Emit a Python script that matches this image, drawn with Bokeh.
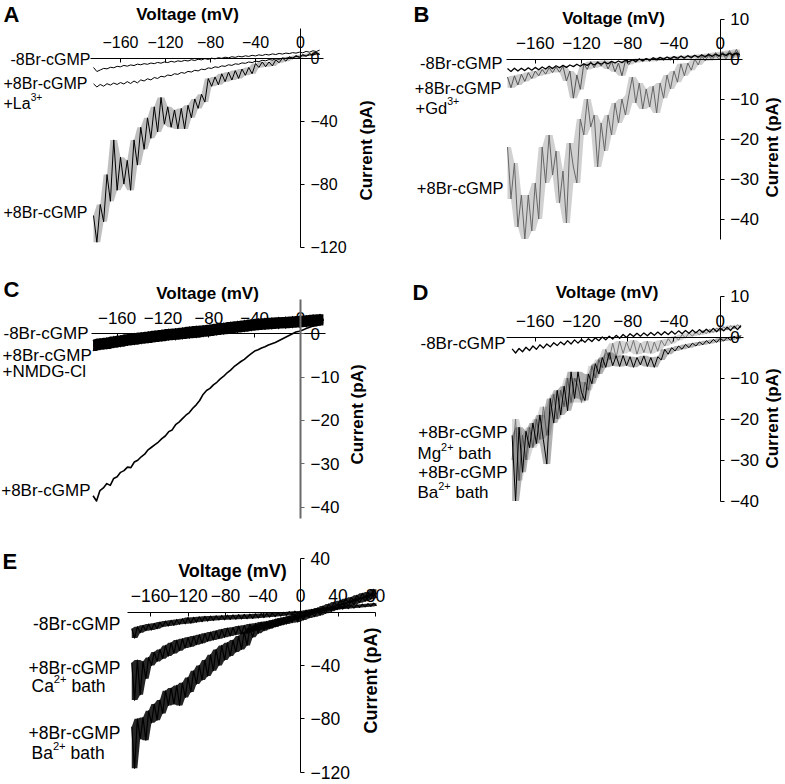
import math
from bokeh.plotting import figure
from bokeh.models import Range1d, LinearAxis, FixedTicker, Label
from bokeh.layouts import column, row
from bokeh.embed import file_html
from bokeh.resources import INLINE

FONT = "Liberation Sans"

# ---------------- data (voltage in mV, current in pA) ----------------
VOLT_AB = [-184, -181, -178, -175, -172, -169, -166, -163, -160, -157,
           -154, -151, -148, -145, -142, -139, -136, -133, -130, -127,
           -124, -121, -118, -115, -112, -109, -106, -103, -100, -97,
           -94, -91, -88, -85, -82, -79, -76, -73, -70, -67,
           -64, -61, -58, -55, -52, -49, -46, -43, -40, -37,
           -34, -31, -28, -25, -22, -19, -16, -13, -10, -7,
           -4, -1, 2, 5, 8, 11, 14, 17]

A_minus_cgmp = [-6.0, -8.6, -7.6, -6.6, -6.9, -5.9, -6.2, -5.3, -5.6, -4.7,
                -5.2, -4.4, -4.8, -3.9, -4.3, -3.6, -4.0, -3.2, -3.6, -2.8,
                -3.3, -2.5, -2.9, -2.1, -2.6, -1.8, -2.2, -1.5, -1.9, -1.1,
                -1.6, -0.8, -1.2, -0.4, -0.9, -0.1, -0.6, 0.2, -0.2, 0.5,
                0.1, 0.8, 0.4, 1.1, 0.7, 1.4, 1.0, 1.7, 1.3, 2.0,
                1.6, 2.3, 1.9, 2.6, 2.2, 2.9, 2.5, 3.1, 2.8, 3.4,
                3.1, 3.7, 3.3, 4.2, 3.7, 4.6, 4.1, 5.0]
A_cgmp_la = [-16.4, -18.4, -16.8, -17.9, -16.3, -17.2, -15.9, -16.8, -15.6, -16.5,
             -15.0, -16.2, -14.6, -15.8, -13.9, -14.6, -13.2, -13.9, -12.4, -13.0,
             -11.6, -12.0, -10.8, -11.2, -10.0, -10.4, -9.2, -9.7, -8.5, -8.9,
             -7.8, -8.2, -7.1, -7.4, -6.3, -6.6, -5.6, -6.0, -5.0, -5.3,
             -4.3, -4.7, -3.7, -4.0, -3.1, -3.4, -2.5, -2.9, -2.0, -2.3,
             -1.5, -1.8, -1.0, -1.3, -0.5, -0.8, 0.0, -0.3, 0.5, 0.2,
             1.0, 0.7, 1.5, 1.2, 2.0, 1.8, 2.6, 2.4]
A_plus_cgmp = [-100, -117, -93, -104, -74, -91, -52, -84, -63, -80,
               -65, -84, -52, -68, -44, -58, -38, -51, -31, -47,
               -25, -42, -31, -44, -33, -45, -32, -45, -30, -38,
               -26, -32, -23, -28, -13, -18, -12, -17, -10, -15,
               -9, -14, -8, -13, -7, -11, -6, -10, -3.5, -6,
               -2.5, -5.5, -2.5, -5, -1.2, -3, 0, -2, 0.8, -0.5,
               1.6, 0.3, 2.2, 1.2, 2.8, 1.8, 3.7, 2.2]

B_minus_cgmp = [-2.4, -3.1, -2.3, -3.0, -2.3, -2.9, -2.2, -2.8, -2.1, -2.7,
                -2.0, -2.5, -1.8, -2.4, -1.7, -2.2, -1.6, -2.1, -1.5, -1.9,
                -1.3, -1.8, -1.2, -1.6, -1.0, -1.5, -0.9, -1.3, -0.8, -1.2,
                -0.6, -1.0, -0.5, -0.9, -0.3, -0.7, -0.2, -0.6, 0.0, -0.4,
                0.1, -0.3, 0.3, -0.1, 0.4, 0.0, 0.5, 0.1, 0.6, 0.2,
                0.7, 0.3, 0.8, 0.4, 0.9, 0.5, 1.0, 0.6, 1.1, 0.7,
                1.2, 0.8, 1.3, 0.9, 1.4, 1.0, 1.5, 1.1]
B_cgmp_gd = [-4.5, -7.2, -4.2, -6.5, -3.8, -5.6, -3.4, -4.9, -3.0, -4.2,
             -2.6, -3.8, -2.2, -3.4, -2.0, -3.3, -1.8, -5.5, -3.0, -9.8,
             -4.0, -7.6, -1.2, -2.6, -0.6, -2.2, -0.5, -1.8, -0.4, -2.5,
             -0.6, -3.2, -1.0, -4.2, -0.4, -1.4, 0.0, -0.9, 0.1, -0.7,
             0.2, -0.6, 0.3, -0.5, 0.4, -0.4, 0.5, -0.3, 0.6, -0.2,
             0.8, 0.0, 0.9, 0.1, 1.0, 0.2, 1.2, 0.3, 1.4, 0.4,
             1.6, 0.5, 1.8, 0.6, 2.1, 0.6, 2.4, 0.8]
B_plus_cgmp = [-22, -35, -26, -42, -34, -45, -34, -43, -31, -40,
               -22, -31, -19, -29, -23, -36, -28, -41, -21, -27,
               -31, -15, -19, -10, -17, -14, -27, -16, -23, -14,
               -19, -11, -16, -10, -14, -9, -4.5, -11, -6, -12.5,
               -7.5, -12, -6.8, -13.5, -6, -9.8, -4, -7.5, -3, -5.8,
               -1.2, -4.2, -1, -2.8, 0, -1.5, 0.8, -0.5, 1.0, -0.3,
               1.2, -0.2, 1.4, 0.0, 1.6, 0.2, 1.8, 0.5]

VOLT_C = [-181, -178, -175, -172, -169, -166, -163, -160, -157, -154,
          -151, -148, -145, -142, -139, -136, -133, -130, -127, -124,
          -121, -118, -115, -112, -109, -106, -103, -100, -97, -94,
          -91, -88, -85, -82, -79, -76, -73, -70, -67, -64,
          -61, -58, -55, -52, -49, -46, -43, -40, -37, -34,
          -31, -28, -25, -22, -19, -16, -13, -10, -7, -4,
          -1, 2, 5, 8, 11, 14, 17, 20]
C_minus_cgmp = [-1.4, -2.9, -1.1, -2.6, -0.9, -2.4, -0.6, -2.1, -0.4, -1.9,
                -0.1, -1.6, 0.1, -1.4, 0.3, -1.2, 0.5, -1.0, 0.7, -0.8,
                0.9, -0.6, 1.1, -0.4, 1.2, -0.3, 1.4, -0.1, 1.6, 0.1,
                1.8, 0.2, 1.9, 0.4, 2.1, 0.6, 2.3, 0.8, 2.5, 1.0,
                2.7, 1.2, 2.9, 1.4, 3.1, 1.6, 3.3, 1.8, 3.5, 2.0,
                3.6, 2.1, 3.7, 2.2, 3.8, 2.3, 3.9, 2.4, 4.0, 2.5,
                4.1, 2.6, 4.2, 2.7, 4.4, 2.8, 4.5, 2.9]
C_cgmp_nmdg = [-4.0, -2.2, -3.7, -2.0, -3.5, -1.8, -3.2, -1.5, -3.0, -1.3,
               -2.7, -1.0, -2.5, -0.8, -2.3, -0.6, -2.1, -0.4, -1.9, -0.2,
               -1.7, 0.0, -1.5, 0.2, -1.4, 0.3, -1.2, 0.5, -1.0, 0.7,
               -0.9, 0.8, -0.7, 1.0, -0.5, 1.2, -0.3, 1.4, -0.1, 1.6,
               0.1, 1.8, 0.3, 2.0, 0.5, 2.2, 0.7, 2.4, 0.9, 2.5,
               1.0, 2.6, 1.1, 2.7, 1.2, 2.8, 1.3, 2.9, 1.4, 3.0,
               1.5, 3.1, 1.6, 3.2, 1.7, 3.4, 1.9, 3.5]
C_plus_cgmp = [-37.4, -38.6, -36.2, -35.6, -34.6, -35.0, -33.4, -33.0, -32.0, -31.6,
               -30.8, -30.9, -29.6, -29.2, -28.4, -27.8, -26.8, -26.2, -25.6, -25.0,
               -24.2, -23.6, -22.6, -22.2, -21.0, -20.4, -19.6, -18.8, -18.2, -17.2,
               -16.4, -15.4, -14.0, -13.1, -12.6, -11.8, -11.2, -10.4, -9.8, -9.0,
               -8.4, -7.6, -7.0, -6.4, -5.9, -5.2, -4.6, -4.0, -3.7, -3.3,
               -3.0, -2.6, -2.3, -2.0, -1.6, -1.2, -0.8, -0.4, 0.0, 0.4,
               0.6, 0.9, 1.2, 1.5, 1.8, 2.0, 2.3, 2.6]

VOLT_D = [-180, -177, -174, -171, -168, -165, -162, -159, -156, -153,
          -150, -147, -144, -141, -138, -135, -132, -129, -126, -123,
          -120, -117, -114, -111, -108, -105, -102, -99, -96, -93,
          -90, -87, -84, -81, -78, -75, -72, -69, -66, -63,
          -60, -57, -54, -51, -48, -45, -42, -39, -36, -33,
          -30, -27, -24, -21, -18, -15, -12, -9, -6, -3,
          0, 3, 6, 9, 12, 15, 18]
D_minus_cgmp = [-2.9, -3.9, -2.8, -3.6, -2.5, -3.3, -2.2, -3.0, -1.9, -2.7,
                -1.7, -2.4, -1.4, -2.1, -1.2, -1.9, -0.9, -1.7, -0.7, -1.5,
                -0.6, -1.3, -0.4, -1.1, -0.2, -0.9, 0.0, -0.7, 0.2, -0.5,
                0.4, -0.3, 0.6, -0.1, 0.8, 0.1, 0.9, 0.2, 1.0, 0.3,
                1.1, 0.4, 1.2, 0.5, 1.3, 0.6, 1.4, 0.7, 1.5, 0.8,
                1.6, 0.9, 1.7, 1.0, 1.8, 1.1, 1.9, 1.2, 2.1, 1.3,
                2.2, 1.5, 2.4, 1.6, 2.6, 1.8, 2.8]
D_cgmp_mg = [-24, -40, -22, -33, -23, -27, -21, -26, -19, -25,
             -31, -15, -21, -13, -19, -12, -18, -8.5, -15, -8.5,
             -13.5, -15.5, -9, -11.4, -6.5, -9, -5, -7.4, -3.8, -7,
             -4.6, -7.2, -4.5, -7, -4.8, -7.4, -5, -6.8, -4.6, -7.2,
             -5, -7.4, -4.8, -5.6, -3, -4.2, -2.6, -3.4, -2.2, -3.0,
             -1.8, -2.6, -1.5, -2.2, -1.2, -1.9, -0.9, -1.6, -0.6, -1.3,
             -0.3, -1.0, -0.1, -0.8, 0.2, -0.5, 0.4]
D_cgmp_ba = [-30, -20, -35, -24, -30, -22, -27, -20, -25, -17,
             -24, -19, -14, -20, -13, -17, -10, -16, -10, -12,
             -16, -11, -13, -7, -10, -5.5, -7.5, -3, -5.5, -1.5,
             -5, -1, -4, -1.2, -3.5, -0.8, -4.2, -1.5, -3.8, -1,
             -4, -1.2, -3.5, -0.8, -2.2, -0.4, -1.6, 0.2, -0.8, 0.6,
             -0.2, 1.0, 0.2, 1.3, 0.5, 1.6, 0.8, 1.9, 1.1, 2.2,
             1.4, 2.5, 1.7, 2.8, 2.0, 3.0, 2.2]

VOLT_E = [-180, -177, -174, -171, -168, -165, -162, -159, -156, -153,
          -150, -147, -144, -141, -138, -135, -132, -129, -126, -123,
          -120, -117, -114, -111, -108, -105, -102, -99, -96, -93,
          -90, -87, -84, -81, -78, -75, -72, -69, -66, -63,
          -60, -57, -54, -51, -48, -45, -42, -39, -36, -33,
          -30, -27, -24, -21, -18, -15, -12, -9, -6, -3,
          0, 3, 6, 9, 12, 15, 18, 21, 24, 27,
          30, 33, 36, 39, 42, 45, 48, 51, 54, 57,
          60, 63, 66, 69, 72, 75, 78, 81]
E_minus_cgmp = [-12.5, -19.5, -11.0, -15.5, -10.0, -14.0, -9.0, -13.5, -8.5, -12.5,
                -7.5, -11.0, -6.8, -10.5, -6.2, -10.0, -5.6, -9.2, -5.0, -8.8,
                -4.2, -8.4, -4.0, -7.6, -3.6, -7.2, -3.2, -6.8, -3.0, -6.4,
                -2.8, -6.0, -2.6, -5.8, -2.4, -5.6, -2.2, -5.4, -2.0, -5.2,
                -1.8, -5.0, -1.6, -4.8, -1.4, -4.5, -1.2, -4.2, -1.0, -3.8,
                -0.8, -3.4, -0.5, -3.0, -0.2, -2.6, 0.2, -2.2, 0.6, -1.8,
                0.8, -1.2, 1.4, -0.6, 2.0, 0.0, 2.6, 0.6, 3.0, 1.0,
                3.4, 1.4, 3.8, 1.8, 4.2, 2.2, 4.6, 2.6, 5.0, 3.0,
                5.4, 3.4, 5.8, 3.8, 6.2, 4.2, 6.6, 4.6]
E_cgmp_ca = [-38, -66, -36, -62, -37, -50, -34, -40, -30, -37,
             -28, -35, -25, -33, -23, -31, -21, -29, -20, -27,
             -19, -26, -18, -24.5, -17, -23.5, -16, -22, -15, -21,
             -14, -20, -13, -19, -12, -18, -11.5, -17, -10.5, -16.5,
             -10, -16, -9, -14.5, -8.5, -13.5, -7.5, -13, -7, -12,
             -6, -11, -5, -10, -4.5, -9, -3.5, -8, -2.5, -7.5,
             -2, -6, -1, -4.5, 0, -3.5, 1, -2.5, 2, -1,
             3.5, 0.5, 4.5, 2, 6, 3, 7, 4.5, 8.5, 5.5,
             10, 7, 11, 8, 12.5, 9.5, 14, 10.5]
E_cgmp_ba = [-86, -117, -80, -95, -79, -96, -74, -83, -69, -81,
             -66, -76, -59, -70, -57, -69, -55, -70, -53, -64,
             -49, -60, -44, -54, -40, -51, -36, -48, -32, -44,
             -28, -40, -25, -36, -23, -33, -21, -30, -18, -28,
             -15, -25, -12, -19, -10, -16, -8.5, -14, -7.5, -12.5,
             -6.5, -11, -5, -9.5, -4, -8, -3, -6.5, -1.5, -5.5,
             -1, -4, 0.5, -2.5, 1.5, -1, 3, 0.5, 4.5, 1.5,
             6, 3, 7.5, 4.5, 8.5, 5.5, 10, 7, 11, 8,
             12.5, 9.5, 14, 10.5, 15, 12, 17, 13.5]

X_TICKS = [-160, -120, -80, -40, 0]
X_TICKS_E = [-160, -120, -80, -40, 0, 40, 80]
Y_TICKS_A = [0, -40, -80, -120]
Y_TICKS_B = [10, 0, -10, -20, -30, -40]
Y_TICKS_C = [0, -10, -20, -30, -40]
Y_TICKS_D = [10, 0, -10, -20, -30, -40]
Y_TICKS_E = [40, -40, -80, -120]

# ---------------- layout constants ----------------
# page pixel of 0 mV, px per mV, page pixel of 0 pA, px per pA
CAL = {"A": (300.0, 1.125, 57.5, 1.575),
       "B": (719.7, 1.156, 58.5, 4.0),
       "C": (300.0, 1.146, 333.3, 4.33),
       "D": (719.7, 1.156, 336.5, 4.1),
       "E": (300.0, 0.9375, 611.5, 1.335)}
# canvas box of each panel (left, right, top, bottom) in page pixels
BOX = {"A": (0, 392, 0, 268),
       "B": (392, 784, 0, 268),
       "C": (0, 392, 268, 542),
       "D": (392, 784, 268, 542),
       "E": (0, 392, 542, 783)}
# font sizes per panel: (tick labels, annotation text, axis titles)
FS = {"A": (16, 16, 17), "B": (17, 16.5, 17), "C": (17, 17, 17),
      "D": (17, 17, 17), "E": (17.5, 17.5, 18)}
# em widths (Arial metrics) of the texts that carry a superscript
EM = {"+La": 1.696, "+Gd": 1.918, "Mg": 1.389, "Ba": 1.223, "Ca": 1.278}


def make_panel(key, xticks, yticks, xbounds, ybounds, ycolor="black", ywidth=1):
    x0, sx, y0, sy = CAL[key]
    l, r, t, b = BOX[key]
    fs = FS[key][0]
    p = figure(width=r - l, height=b - t,
               x_range=Range1d((l - x0) / sx, (r - x0) / sx),
               y_range=Range1d((y0 - b) / sy, (y0 - t) / sy),
               x_axis_type=None, y_axis_type=None,
               toolbar_location=None, output_backend="svg",
               min_border=0, outline_line_color=None,
               background_fill_color="white", border_fill_color="white")
    xa = LinearAxis(fixed_location=0, bounds=xbounds,
                    ticker=FixedTicker(ticks=xticks),
                    major_tick_in=4, major_tick_out=0,
                    minor_tick_in=0, minor_tick_out=0,
                    major_label_standoff=10,
                    major_label_text_font=FONT,
                    major_label_text_font_size=f"{fs}px",
                    major_label_text_color="black",
                    axis_line_color="black", major_tick_line_color="black")
    p.add_layout(xa, "above")
    ya = LinearAxis(fixed_location=0, bounds=ybounds,
                    ticker=FixedTicker(ticks=yticks),
                    major_tick_in=0, major_tick_out=4,
                    minor_tick_in=0, minor_tick_out=0,
                    major_label_standoff=6,
                    major_label_text_font=FONT,
                    major_label_text_font_size=f"{fs}px",
                    major_label_text_color="black",
                    axis_line_color=ycolor, axis_line_width=ywidth,
                    major_tick_line_color=ycolor)
    p.add_layout(ya, "right")
    return p


def txt(p, key, s, rx, ry, size=None, bold=False, align="left",
        baseline="middle", angle=0.0):
    x0, sx, y0, sy = CAL[key]
    if size is None:
        size = FS[key][1]
    p.add_layout(Label(x=(rx - x0) / sx, y=(y0 - ry) / sy, text=s,
                       text_font=FONT, text_font_size=f"{size}px",
                       text_font_style="bold" if bold else "normal",
                       text_align=align, text_baseline=baseline,
                       angle=angle, text_color="black"))


def sup_text(p, key, base, sup, tail, rx, ry):
    size = FS[key][1]
    ss = round(size * 0.64, 1)
    xs = rx + EM[base] * size
    txt(p, key, base, rx, ry)
    txt(p, key, sup, xs, ry - size * 0.38, size=ss)
    if tail:
        txt(p, key, tail, xs + 1.14 * ss + 0.28 * size, ry)


def titles(p, key, letter, lx, ly, vx, vy, cx, cy):
    ts = FS[key][2]
    txt(p, key, letter, lx, ly, size=22, bold=True, baseline="top")
    txt(p, key, "Voltage (mV)", vx, vy, size=ts, bold=True, align="center")
    txt(p, key, "Current (pA)", cx, cy, size=ts, bold=True, align="center",
        angle=math.pi / 2)


def trace(p, volts, amps, color="black", width=1.0, band_alpha=0.0):
    # noisy recording: shaded local min/max band of the read samples + the trace
    if band_alpha > 0:
        n = len(amps)
        lo = [min(amps[max(0, k - 1):k + 2]) for k in range(n)]
        hi = [max(amps[max(0, k - 1):k + 2]) for k in range(n)]
        p.varea(x=volts, y1=lo, y2=hi, fill_color=color, fill_alpha=band_alpha)
    p.line(volts, amps, line_color=color, line_width=width, line_join="round")


# ---------------- panel A ----------------
pA = make_panel("A", X_TICKS, Y_TICKS_A, (-187, 20), (-120, 19))
trace(pA, VOLT_AB, A_plus_cgmp, width=1, band_alpha=0.25)
trace(pA, VOLT_AB, A_cgmp_la, width=1)
trace(pA, VOLT_AB, A_minus_cgmp, width=1)
titles(pA, "A", "A", 3, 1, 187, 14, 366, 150)
txt(pA, "A", "-8Br-cGMP", 90, 59, align="right")
txt(pA, "A", "+8Br-cGMP", 3, 83)
sup_text(pA, "A", "+La", "3+", None, 3, 103)
txt(pA, "A", "+8Br-cGMP", 3, 212)

# ---------------- panel B ----------------
pB = make_panel("B", X_TICKS, Y_TICKS_B, (-185, 19), (-45, 10))
trace(pB, VOLT_AB, B_plus_cgmp, color="#666666", width=1, band_alpha=0.3)
trace(pB, VOLT_AB, B_cgmp_gd, color="#555555", width=1, band_alpha=0.3)
trace(pB, VOLT_AB, B_minus_cgmp, color="black", width=1.3)
titles(pB, "B", "B", 413, 1, 613, 18, 772, 147)
txt(pB, "B", "-8Br-cGMP", 502, 62, align="right")
txt(pB, "B", "+8Br-cGMP", 501, 87, align="right")
sup_text(pB, "B", "+Gd", "3+", None, 415, 107)
txt(pB, "B", "+8Br-cGMP", 503, 187, align="right")

# ---------------- panel C ----------------
pC = make_panel("C", X_TICKS, Y_TICKS_C, (-182, 22), (-42.7, 8),
                ycolor="#6a6a6a", ywidth=2)
trace(pC, VOLT_C, C_plus_cgmp, width=1.6)
trace(pC, VOLT_C, C_minus_cgmp, width=1.2, band_alpha=1.0)
trace(pC, VOLT_C, C_cgmp_nmdg, width=1.2, band_alpha=1.0)
titles(pC, "C", "C", 3, 276, 207, 293, 357, 414)
txt(pC, "C", "-8Br-cGMP", 88, 333, align="right")
txt(pC, "C", "+8Br-cGMP", 2, 355)
txt(pC, "C", "+NMDG-Cl", 2, 371)
txt(pC, "C", "+8Br-cGMP", 90, 490, align="right")

# ---------------- panel D ----------------
pD = make_panel("D", X_TICKS, Y_TICKS_D, (-185, 20), (-40, 10))
trace(pD, VOLT_D, D_cgmp_ba, color="#777777", width=1, band_alpha=0.3)
trace(pD, VOLT_D, D_cgmp_mg, color="black", width=1, band_alpha=0.3)
trace(pD, VOLT_D, D_minus_cgmp, color="black", width=1.3)
titles(pD, "D", "D", 412, 279, 606.5, 292, 772, 418)
txt(pD, "D", "-8Br-cGMP", 505, 343, align="right")
txt(pD, "D", "+8Br-cGMP", 507, 432, align="right")
sup_text(pD, "D", "Mg", "2+", "bath", 417, 453)
txt(pD, "D", "+8Br-cGMP", 507, 472, align="right")
sup_text(pD, "D", "Ba", "2+", "bath", 417, 492)

# ---------------- panel E ----------------
pE = make_panel("E", X_TICKS_E, Y_TICKS_E, (-185, 80), (-120, 40))
trace(pE, VOLT_E, E_cgmp_ba, width=1.2, band_alpha=0.85)
trace(pE, VOLT_E, E_cgmp_ca, width=1.2, band_alpha=0.85)
trace(pE, VOLT_E, E_minus_cgmp, width=1.2, band_alpha=0.85)
titles(pE, "E", "E", 2, 548, 232, 570, 370, 680)
txt(pE, "E", "-8Br-cGMP", 120, 623, align="right")
txt(pE, "E", "+8Br-cGMP", 120, 667, align="right")
sup_text(pE, "E", "Ca", "2+", "bath", 31, 685)
txt(pE, "E", "+8Br-cGMP", 120, 732, align="right")
sup_text(pE, "E", "Ba", "2+", "bath", 31, 752)

layout = column(row(pA, pB), row(pC, pD), pE)
open("out.html", "w").write(file_html(layout, INLINE))
